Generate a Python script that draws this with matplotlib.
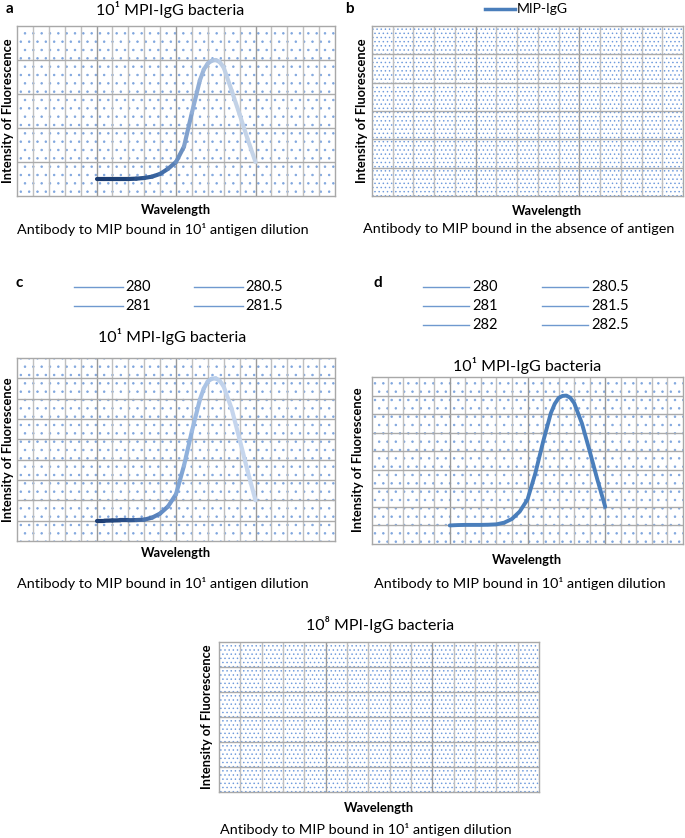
import matplotlib
matplotlib.use("Agg")
import matplotlib.pyplot as plt
import numpy as np
from matplotlib.collections import LineCollection
from matplotlib.colors import LinearSegmentedColormap
from matplotlib.patches import Rectangle

plt.rcParams['font.family'] = ['Lato', 'DejaVu Sans']
plt.rcParams['hatch.linewidth'] = 0.55

W, H = 685, 838

# wavelength positions (grid columns) and fluorescence readings
wl_a = [5, 5.5, 6, 6.5, 7, 7.5, 8, 8.5, 9, 9.5, 10, 10.5, 11, 11.5, 11.75, 12, 12.25, 12.5, 12.75, 13, 13.5, 14, 14.5, 15]
int_a = [0.5, 0.5, 0.5, 0.5, 0.5, 0.51, 0.53, 0.57, 0.65, 0.8, 1.0, 1.45, 2.45, 3.4, 3.72, 3.9, 3.98, 4.0, 3.94, 3.78, 3.1, 2.4, 1.68, 1.0]

wl_c = [5, 5.5, 6, 6.5, 7, 7.5, 8, 8.5, 9, 9.5, 10, 10.5, 11, 11.5, 11.75, 12, 12.25, 12.5, 12.75, 13, 13.5, 14, 14.5, 15]
int_c = [1.0, 1.0, 1.01, 1.02, 1.02, 1.03, 1.05, 1.15, 1.35, 1.7, 2.3, 3.7, 5.4, 6.95, 7.5, 7.85, 7.98, 8.0, 7.88, 7.6, 6.5, 5.0, 3.45, 2.0]

wl_d = [5, 5.5, 6, 6.5, 7, 7.5, 8, 8.5, 9, 9.5, 10, 10.5, 11, 11.5, 11.75, 12, 12.25, 12.5, 12.75, 13, 13.5, 14, 14.5, 15]
int_d = [1.0, 1.02, 1.03, 1.03, 1.03, 1.04, 1.06, 1.15, 1.35, 1.75, 2.4, 3.8, 5.5, 7.05, 7.55, 7.87, 7.98, 8.0, 7.88, 7.6, 6.5, 5.0, 3.45, 2.0]

legend_c = ['280', '280.5', '281', '281.5']
legend_d = ['280', '280.5', '281', '281.5', '282', '282.5']

title_101 = '10¹ MPI-IgG bacteria'
title_108 = '10⁸ MPI-IgG bacteria'
cap_101 = 'Antibody to MIP bound in 10¹ antigen dilution'
cap_abs = 'Antibody to MIP bound in the absence of antigen'
ylab = 'Intensity of Fluorescence'
xlab = 'Wavelength'

fig = plt.figure(figsize=(W / 100, H / 100), dpi=100)


def fx(x):
    return x / W


def fy(y):
    return 1 - y / H


def make_axes(x0, y0, x1, y1, ncol, nrow, hatch, dot_color='#7ea5de'):
    ax = fig.add_axes([fx(x0), fy(y1), fx(x1) - fx(x0), (y1 - y0) / H])
    ax.set_xlim(0, ncol)
    ax.set_ylim(0, nrow)
    ax.add_patch(Rectangle((0, 0), 1, 1, transform=ax.transAxes, facecolor='white',
                           edgecolor=dot_color, lw=0, hatch=hatch, zorder=0))
    for i in range(1, ncol):
        c = '#9a9a9a' if i % 5 == 0 else '#c0c0c0'
        ax.axvline(i, color=c, lw=1.0, zorder=1)
    for j in range(1, nrow):
        ax.axhline(j, color='#ababab', lw=1.0, zorder=1)
    for s in ax.spines.values():
        s.set_color('#a8a8a8')
        s.set_linewidth(1.0)
    ax.set_xticks([])
    ax.set_yticks([])
    return ax


def gradient_line(ax, x, y, colors, lw):
    x = np.asarray(x, float)
    y = np.asarray(y, float)
    pts = np.column_stack([x, y]).reshape(-1, 1, 2)
    segs = np.concatenate([pts[:-1], pts[1:]], axis=1)
    cmap = LinearSegmentedColormap.from_list('g', colors)
    mids = (x[:-1] + x[1:]) / 2
    t = (mids - x.min()) / (x.max() - x.min())
    lc = LineCollection(segs, colors=cmap(t), linewidths=lw, capstyle='round',
                        joinstyle='round', zorder=3)
    ax.add_collection(lc)


def labels(cx, x_ylab, ymid, y_xlab, y_cap, cap, cap_x=None):
    fig.text(fx(x_ylab), fy(ymid), ylab, rotation=90, ha='center', va='center',
             fontsize=9.3, fontweight='bold')
    fig.text(fx(cx), fy(y_xlab), xlab, ha='center', va='center', fontsize=9.3, fontweight='bold')
    fig.text(fx(cap_x if cap_x else cx), fy(y_cap), cap, ha='center', va='center', fontsize=10.4)


# panel a
ax_a = make_axes(17, 26, 335, 196, 20, 5, '..')
gradient_line(ax_a, wl_a, int_a, ['#1b3a6e', '#1f4378', '#3a66a3', '#8aa9d3', '#c0d0e6', '#c6d4e8'], 3)
fig.text(fx(6), fy(9), 'a', fontsize=11, fontweight='bold', va='center')
fig.text(fx(170), fy(10), title_101, ha='center', va='center', fontsize=11.5)
labels(176, 8, 111, 210, 229, cap_101, 163)

# panel b
ax_b = make_axes(372, 26, 683, 196, 15, 6, '....', '#6f9bdc')
fig.text(fx(345), fy(9), 'b', fontsize=11, fontweight='bold', va='center')
fig.add_artist(plt.Line2D([fx(485), fx(515)], [fy(9), fy(9)], color='#4a7ebb', lw=2.5))
fig.text(fx(517), fy(9), 'MIP-IgG', va='center', fontsize=10)
labels(547, 362, 111, 211, 229, cap_abs, 519)

# panel c
ax_c = make_axes(17, 358, 335, 541, 20, 9, '..')
gradient_line(ax_c, wl_c, int_c, ['#1c3c70', '#2b508a', '#5d88c2', '#97b6df', '#c3d4ec', '#c8d7ee'], 3)
fig.text(fx(16), fy(283), 'c', fontsize=11, fontweight='bold', va='center')
for k, lab in enumerate(legend_c):
    col, row = k % 2, k // 2
    x0 = 74 + col * 120
    yy = 287 + row * 19
    fig.add_artist(plt.Line2D([fx(x0), fx(x0 + 49)], [fy(yy), fy(yy)], color='#6f99cf', lw=1.0))
    fig.text(fx(x0 + 51), fy(yy), lab, va='center', fontsize=10.5)
fig.text(fx(172), fy(336), title_101, ha='center', va='center', fontsize=11.5)
labels(176, 8, 450, 553, 583, cap_101, 163)

# panel d
ax_d = make_axes(372, 377, 683, 544, 20, 9, '..')
ax_d.plot(wl_d, int_d, color='#4a7ebb', lw=2.8, zorder=3, solid_capstyle='round',
          solid_joinstyle='round')
fig.text(fx(373), fy(283), 'd', fontsize=11, fontweight='bold', va='center')
for k, lab in enumerate(legend_d):
    col, row = k % 2, k // 2
    x0 = 423 + col * 119
    yy = 287 + row * 19
    fig.add_artist(plt.Line2D([fx(x0), fx(x0 + 46)], [fy(yy), fy(yy)], color='#6f99cf', lw=1.0))
    fig.text(fx(x0 + 49), fy(yy), lab, va='center', fontsize=10.5)
fig.text(fx(527), fy(365), title_101, ha='center', va='center', fontsize=11.5)
labels(527, 358, 460, 560, 583, cap_101, 520)

# panel e
ax_e = make_axes(219, 642, 539, 792, 15, 6, '....', '#6f9bdc')
fig.text(fx(380), fy(624), title_108, ha='center', va='center', fontsize=11.5)
labels(379, 207, 717, 808, 829, cap_101, 366)

fig.savefig('out.png', dpi=100)
